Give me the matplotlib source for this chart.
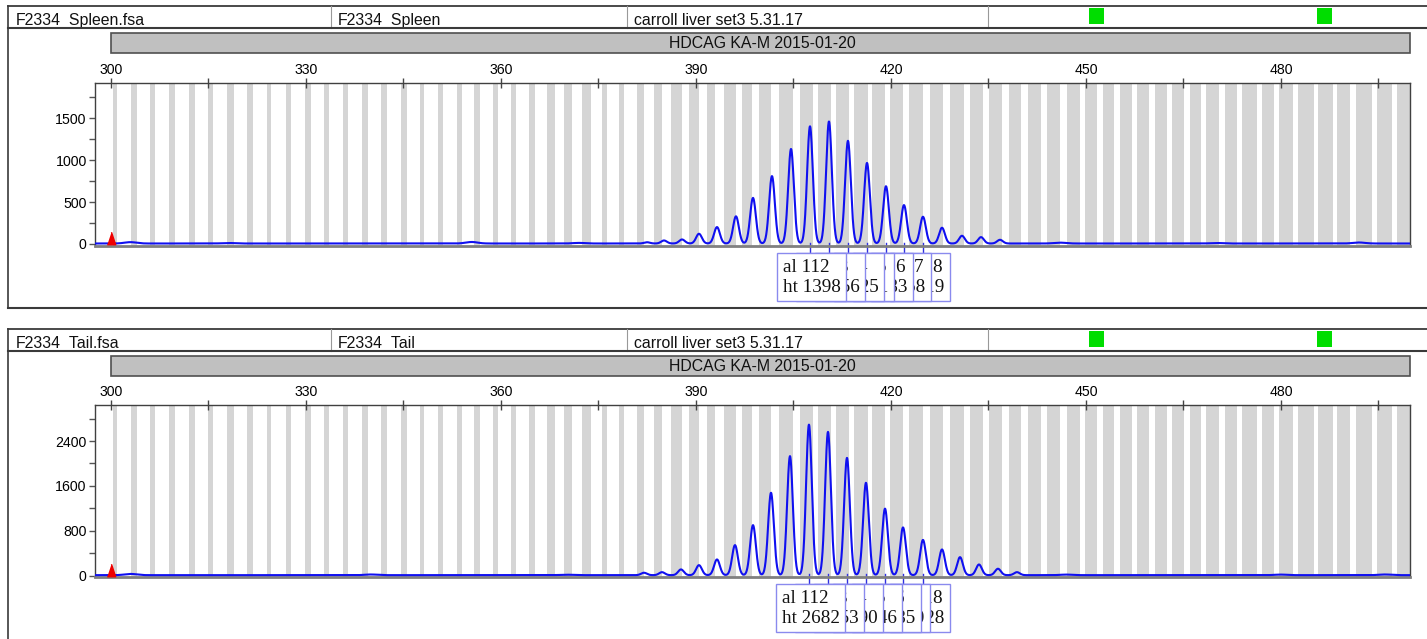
import numpy as np
import matplotlib
matplotlib.use("Agg")
import matplotlib.pyplot as plt
from matplotlib.patches import Rectangle
from matplotlib.ticker import FixedLocator
from matplotlib.transforms import blended_transform_factory, offset_copy

plt.rcParams['font.family'] = ['Liberation Sans', 'DejaVu Sans']

W, H = 1427, 639

# bins of the size standard (grey stripes), bp
bin_centers = [300.62, 303.49, 306.42, 309.38, 312.46, 315.34, 318.42, 321.34, 324.31, 327.28,
               330.31, 333.12, 336.11, 339.08, 342.0, 345.03, 347.85, 350.69, 353.57, 356.34,
               359.15, 361.89, 364.8, 367.74, 370.31, 373.15, 375.92, 378.54, 381.46, 384.11,
               387.0, 389.65, 392.31, 395.18, 397.85, 400.66, 403.88, 407.0, 409.82, 412.58,
               415.35, 418.05, 420.88, 423.88, 426.95, 430.11, 433.11, 436.11, 439.08, 442.08,
               445.08, 448.15, 450.8, 453.49, 456.12, 458.77, 461.51, 464.12, 466.82, 469.49,
               472.28, 475.11, 477.97, 480.82, 483.88, 486.85, 489.58, 492.74, 495.92, 498.89]
bin_widths = [0.71, 0.92, 0.82, 0.83, 0.83, 0.82, 1.03, 0.92, 0.71, 0.72,
              0.83, 0.72, 0.72, 0.92, 0.83, 0.92, 0.72, 0.68, 0.77, 0.88,
              0.86, 0.82, 0.88, 1.23, 1.23, 1.29, 0.86, 0.86, 1.17, 1.29,
              1.78, 1.54, 1.28, 1.85, 1.43, 1.9, 2.1, 2.0, 2.0, 2.0,
              2.1, 2.0, 2.0, 2.1, 2.0, 2.1, 2.0, 2.0, 1.9, 2.0,
              2.0, 2.0, 1.89, 1.65, 1.8, 1.94, 1.8, 1.89, 1.65, 2.05,
              1.8, 2.31, 1.89, 2.15, 2.42, 2.22, 2.05, 2.42, 2.22, 2.0]

x_major = [300, 330, 360, 390, 420, 450, 480]
x_minor = [315, 345, 375, 405, 435, 465, 495]
marker_bp = 300

# spleen trace
spleen_peak_bp = [382.46, 385.08, 387.85, 390.46, 393.23, 396.15, 398.77, 401.69, 404.62, 407.54,
                  410.46, 413.38, 416.31, 419.23, 422.0, 424.92, 427.85, 430.92, 433.85, 436.77]
spleen_peak_ht = [15, 36, 48, 116, 196, 324, 544, 804, 1128, 1398,
                  1456, 1225, 961, 683, 458, 319, 188, 92, 76, 44]
spleen_bump_bp = [303.0, 318.0, 355.5, 372.0, 446.0, 470.0, 492.0]
spleen_bump_ht = [16, 6, 18, 7, 10, 6, 12]

# tail trace
tail_peak_bp = [382.0, 384.77, 387.69, 390.46, 393.23, 396.0, 398.77, 401.54, 404.46, 407.38,
                410.31, 413.23, 416.15, 419.08, 421.85, 424.92, 427.85, 430.62, 433.54, 436.46, 439.38]
tail_peak_ht = [43, 53, 102, 178, 280, 535, 891, 1468, 2121, 2682,
                2553, 2090, 1646, 1185, 850, 628, 458, 321, 190, 114, 53]
tail_bump_bp = [303.0, 340.0, 370.0, 447.0, 480.0, 496.0]
tail_bump_ht = [22, 12, 8, 10, 10, 12]

alleles = [112, 113, 114, 115, 116, 117, 118]
first_called = 9  # index of allele 112 in the peak lists

spleen_head = ["F2334_Spleen.fsa", "F2334_Spleen", "carroll liver set3 5.31.17"]
tail_head = ["F2334_Tail.fsa", "F2334_Tail", "carroll liver set3 5.31.17"]
panel_title = "HDCAG KA-M 2015-01-20"

fig = plt.figure(figsize=(W / 100, H / 100), dpi=100)
bg = fig.add_axes([0, 0, 1, 1])
bg.set_xlim(0, W)
bg.set_ylim(H, 0)
bg.axis('off')


def rect(x0, y0, x1, y1):
    return [x0 / W, 1 - y1 / H, (x1 - x0) / W, (y1 - y0) / H]


def trace(x, pbp, pht, bbp, bht, base):
    y = np.full_like(x, base)
    for p, h in zip(pbp, pht):
        y += h * np.exp(-(x - p) ** 2 / (2 * 0.44 ** 2))
    for p, h in zip(bbp, bht):
        y += h * np.exp(-(x - p) ** 2 / (2 * 0.9 ** 2))
    return y


def draw_panel(top, ax_top, ax_bot, frame_bot, head, pbp, pht, bbp, bht,
               ylim, y_major, y_minor, base, tri_y):
    # frame + header
    bg.plot([8, W], [top, top], color='#3a3a3a', lw=1.3)
    bg.plot([8, W], [top + 22, top + 22], color='#3a3a3a', lw=1.5, zorder=5)
    bg.plot([8, 8], [top, frame_bot], color='#3a3a3a', lw=1.2)
    if frame_bot < H:
        bg.plot([8, W], [frame_bot, frame_bot], color='#3a3a3a', lw=1.5)
    for xd in [331, 627, 988]:
        bg.plot([xd, xd], [top, top + 22], color='#999999', lw=0.8)
    for txt, xt in zip(head, [16, 338, 634]):
        bg.text(xt, top + 19, txt, fontsize=11.4, va='baseline', ha='left', color='#111111')
    for xg in [1089, 1317]:
        bg.add_patch(Rectangle((xg, top + 2), 15, 16, facecolor='#00dd00', edgecolor='none'))
    bg.add_patch(Rectangle((111, top + 27), 1299, 20, facecolor='#c0c0c0',
                           edgecolor='#505050', lw=1.2))
    bg.text(762, top + 37.5, panel_title, fontsize=11.4, ha='center', va='center', color='#111111')

    ax = fig.add_axes(rect(95, ax_top, 1410, ax_bot))
    ax.set_xlim(297.54, 499.85)
    ax.set_ylim(*ylim)
    for c, w in zip(bin_centers, bin_widths):
        ax.axvspan(c - w / 2, c + w / 2, color='#d5d5d5', lw=0, zorder=0)
    x = np.linspace(297.54, 499.85, 6000)
    ax.plot(x, trace(x, pbp, pht, bbp, bht, base), color='#1010f0', lw=1.5, zorder=3)
    tri = [(-1, -1.5), (1, -1.5), (0, 1.5)]
    ax.plot([marker_bp], [tri_y], marker=tri, ms=9, color='#ee0000', ls='none', zorder=4)

    ax.xaxis.tick_top()
    ax.xaxis.set_major_locator(FixedLocator(x_major))
    ax.xaxis.set_minor_locator(FixedLocator(x_minor))
    ax.yaxis.set_major_locator(FixedLocator(y_major))
    ax.yaxis.set_minor_locator(FixedLocator(y_minor))
    ax.tick_params(axis='x', which='both', direction='inout', length=7, width=1,
                   color='#444444', labelsize=10.2, pad=0.5)
    ax.tick_params(axis='y', which='both', direction='out', length=4, width=1,
                   color='#555555', labelsize=10.2, pad=2)
    for s in ['top', 'left', 'right']:
        ax.spines[s].set_color('#404040')
        ax.spines[s].set_linewidth(1)
    ax.spines['bottom'].set_color('#808080')
    ax.spines['bottom'].set_linewidth(2)

    # allele call boxes
    ax_h = ax_bot - ax_top
    gap = 7
    fs = 13.8
    pad_px = 0.3 * fs * 100 / 72
    bl = blended_transform_factory(ax.transData, ax.transAxes)
    for k, al in enumerate(alleles):
        bp = pbp[first_called + k]
        ht = pht[first_called + k]
        ax.plot([bp, bp], [0.02, -gap / ax_h], transform=bl, color='#3030e0',
                lw=1, clip_on=False, zorder=2)
        tr = offset_copy(bl, x=-33 + pad_px, y=-(gap + pad_px), units='dots')
        ax.text(bp, 0, f"al {al}\nht {ht}", transform=tr, ha='left', va='top',
                fontsize=fs, family=['Liberation Serif', 'DejaVu Serif'], linespacing=1.22,
                color='#111111', clip_on=False, zorder=60 - k,
                bbox=dict(boxstyle='square,pad=0.3', fc='white', ec='#8a8aee', lw=1))
    return ax


draw_panel(6, 82.5, 246, 308, spleen_head, spleen_peak_bp, spleen_peak_ht,
           spleen_bump_bp, spleen_bump_ht, (-24, 1927), [0, 500, 1000, 1500],
           [250, 750, 1250, 1750], 6, 75)
draw_panel(329, 405, 577, H + 5, tail_head, tail_peak_bp, tail_peak_ht,
           tail_bump_bp, tail_bump_ht, (-23, 3042), [0, 800, 1600, 2400],
           [400, 1200, 2000, 2800], 10, 95)

fig.savefig('out.png', dpi=100)
